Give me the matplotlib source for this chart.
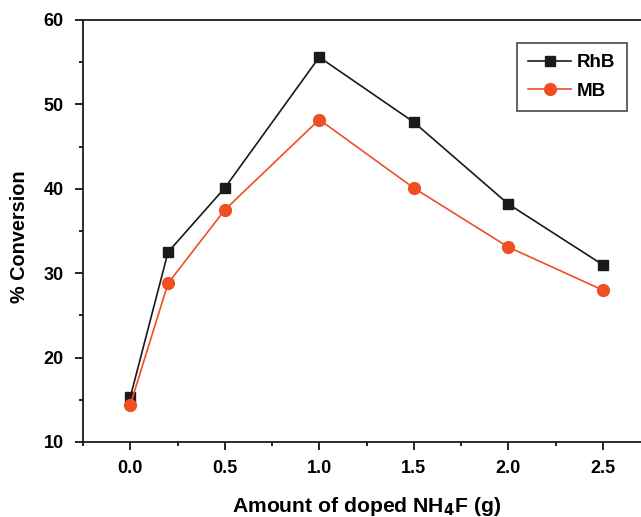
import matplotlib
matplotlib.use("Agg")
import matplotlib.pyplot as plt
from matplotlib.ticker import MultipleLocator

plt.rcParams['font.family'] = ['Liberation Sans', 'DejaVu Sans']
plt.rcParams['font.weight'] = 'bold'

x = [0.0, 0.2, 0.5, 1.0, 1.5, 2.0, 2.5]
rhb = [15.3, 32.5, 40.1, 55.6, 47.9, 38.2, 31.0]
mb = [14.4, 28.8, 37.5, 48.2, 40.1, 33.1, 28.0]
xticks = [0.0, 0.5, 1.0, 1.5, 2.0, 2.5]
yticks = [10, 20, 30, 40, 50, 60]

fig = plt.figure(figsize=(6.41, 5.17), dpi=100)
ax = fig.add_axes([83/641, 75/517, 567/641, 422/517])

ax.plot(x, rhb, '-s', color='#1a1a1a', lw=1.2, ms=7, label='RhB', zorder=3)
ax.plot(x, mb, '-o', color='#f04e23', lw=1.2, ms=8.5, label='MB', zorder=3)

ax.set_xlim(-0.25, 2.75)
ax.set_ylim(10, 60)
ax.set_xticks(xticks)
ax.set_xticklabels([f"{v:.1f}" for v in xticks])
ax.set_yticks(yticks)
ax.xaxis.set_minor_locator(MultipleLocator(0.25))
ax.yaxis.set_minor_locator(MultipleLocator(5))
ax.tick_params(which='major', direction='out', length=6, width=1.2, labelsize=13)
ax.tick_params(which='minor', direction='out', length=3, width=1.2)
ax.tick_params(axis='x', which='major', pad=7)
ax.tick_params(axis='y', which='major', pad=8)
for s in ax.spines.values():
    s.set_linewidth(1.3)
    s.set_color('#1a1a1a')

ax.set_xlabel('Amount of doped NH$_\\mathbf{4}$F (g)', fontsize=15.2, fontweight='bold', labelpad=13)
ax.set_ylabel('% Conversion', fontsize=14.3, fontweight='bold')
ax.yaxis.set_label_coords(-0.095, 0.486)

leg = ax.legend(loc='upper left', bbox_to_anchor=(434/567, 1-23/422), fontsize=13.5,
                frameon=True, fancybox=False, edgecolor='#1a1a1a', borderpad=0.6,
                handlelength=2.3, handletextpad=0.3, labelspacing=0.6, borderaxespad=0)
leg.get_frame().set_linewidth(1.2)
for t in leg.get_texts():
    t.set_fontweight('bold')

fig.savefig('out.png', dpi=100)
